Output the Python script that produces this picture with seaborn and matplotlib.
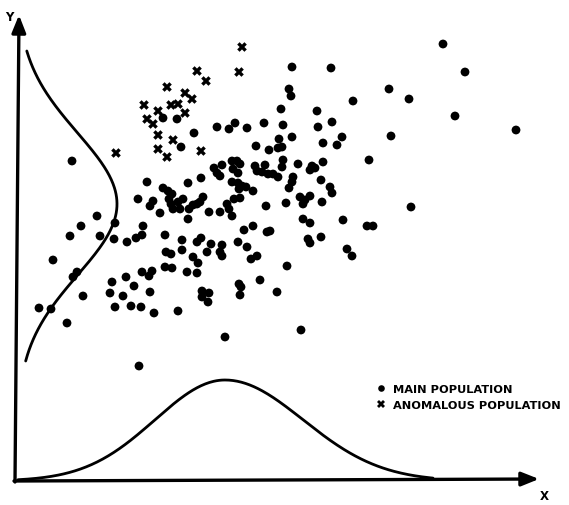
import numpy as np
import pandas as pd
import matplotlib
matplotlib.use("Agg")
import matplotlib.pyplot as plt
import seaborn as sns

# ---- data (X, Y in chart units; origin at the axes corner)
main_x = [56, 81, 65, 54, 99, 84, 98, 111, 120, 126, 127, 37, 61, 57, 67, 23, 35, 51,
          96, 110, 118, 126, 136, 133, 94, 107, 99, 115, 125, 134, 138, 123, 122, 131,
          137, 134, 144,
          150, 155, 166, 177, 182, 191, 204, 206, 149, 156, 171, 181, 186, 193, 186, 192,
          162, 223, 225, 224, 235, 241, 244, 271, 261, 209, 285,
          172, 185, 198, 201, 204, 206, 216, 221, 217, 222, 224, 239, 216, 222, 226, 223,
          230, 218, 224, 211, 213, 216, 204, 193, 187, 184, 181, 177, 173, 172, 167, 164,
          147, 152, 156, 153, 155, 157, 162, 149, 166, 185, 181, 195, 206, 222, 231, 228,
          237,
          147, 161, 178, 165, 201, 213, 219, 231,
          276, 315, 273, 275, 337, 265, 301, 248, 267, 302, 316, 276, 263, 266, 262, 326,
          321, 307, 240, 253, 267, 266, 282, 296, 299, 294, 307, 249, 241, 246, 252, 257,
          262, 353, 277, 276, 273, 305, 314, 316, 284, 289, 287, 294, 270, 306, 250, 237,
          287, 294, 251, 254, 292, 294, 305, 327, 351, 357, 331, 336,
          427, 449, 373, 393, 439, 500, 375, 395]
main_y = [320, 265, 255, 245, 258, 245, 242, 239, 243, 246, 255, 221, 209, 204, 185, 173, 172, 158,
          199, 204, 195, 209, 210, 205, 188, 185, 174, 175, 174, 189, 168, 115, 282, 299,
          280, 275, 268,
          229, 227, 231, 224, 218, 229, 229, 225, 214, 213, 209, 208, 190, 188, 184, 179,
          170, 197, 194, 186, 222, 225, 201, 215, 189, 144, 151,
          298, 303, 313, 308, 305, 316, 320, 320, 312, 308, 317, 315, 299, 298, 295, 292,
          294, 282, 283, 277, 272, 265, 269, 269, 284, 279, 277, 276, 272, 262, 282, 272,
          293, 290, 287, 282, 277, 272, 279, 246, 241, 243, 239, 237, 236, 239, 234, 251,
          255,
          363, 362, 348, 334, 354, 352, 358, 353,
          414, 413, 392, 385, 380, 372, 370, 358, 356, 354, 359, 344, 342, 334, 333, 344,
          336, 338, 335, 331, 321, 314, 317, 315, 313, 311, 319, 316, 310, 309, 307, 307,
          304, 321, 304, 299, 293, 301, 294, 288, 284, 281, 277, 285, 278, 279, 275, 290,
          262, 258, 249, 250, 242, 238, 244, 261, 255, 255, 232, 225,
          437, 409, 392, 382, 365, 351, 345, 274]

anom_x = [226, 181, 223, 190, 151, 169, 176, 128, 155, 162, 142, 169, 131, 137, 142,
          157, 142, 151, 185, 100]
anom_y = [434, 410, 409, 400, 394, 388, 382, 376, 376, 377, 370, 368, 362, 357, 346,
          341, 332, 324, 330, 328]

labels = ["MAIN POPULATION", "ANOMALOUS POPULATION"]

# marginal normal curves (parameters)
x_mean, x_sig_left, x_sig_right, x_amp = 209, 70, 78, 101
y_mean, y_sig, y_amp, y_base = 277, 71, 100, 1

df = pd.DataFrame({
    "X": main_x + anom_x,
    "Y": main_y + anom_y,
    "population": [labels[0]] * len(main_x) + [labels[1]] * len(anom_x),
})

sns.set_theme(style="white")
plt.rcParams["font.family"] = ["DejaVu Sans"]
plt.rcParams["text.color"] = "black"

fig = plt.figure(figsize=(5.69, 5.06), dpi=100)
ax = fig.add_axes([0, 0, 1, 1])

sns.scatterplot(data=df, x="X", y="Y", hue="population", style="population",
                size="population",
                palette={labels[0]: "black", labels[1]: "black"},
                markers={labels[0]: "o", labels[1]: "X"},
                sizes={labels[0]: 40, labels[1]: 48},
                edgecolor="black", linewidth=0, ax=ax, zorder=3)

# bottom marginal curve (distribution of X)
gx = np.linspace(2, 417, 300)
sig = np.where(gx < x_mean, x_sig_left, x_sig_right)
gy = x_amp * np.exp(-(gx - x_mean) ** 2 / (2 * sig ** 2))
sns.lineplot(x=gx, y=gy, color="black", lw=2.0, ax=ax, sort=False, estimator=None)

# left marginal curve (distribution of Y)
hy = np.linspace(120, 430, 300)
hx = y_base + y_amp * np.exp(-(hy - y_mean) ** 2 / (2 * y_sig ** 2))
sns.lineplot(x=hx, y=hy, color="black", lw=2.0, ax=ax, sort=False, estimator=None)

# axes with arrowheads
ax.annotate("", xy=(3, 466), xytext=(-1, -1),
            arrowprops=dict(arrowstyle="-|>,head_length=0.7,head_width=0.28", lw=2.4,
                            color="black", mutation_scale=15, shrinkA=0, shrinkB=0))
ax.annotate("", xy=(523, 2), xytext=(-2, 0),
            arrowprops=dict(arrowstyle="-|>,head_length=0.7,head_width=0.28", lw=2.4,
                            color="black", mutation_scale=15, shrinkA=0, shrinkB=0))
ax.text(-7, 465, "Y", fontsize=8.5, fontweight="bold", ha="center", va="center")
ax.text(528, -15, "X", fontsize=8.5, fontweight="bold", ha="center", va="center")

ax.set_xlim(-16, 553)
ax.set_ylim(-24, 482)
ax.set_axis_off()

leg = ax.legend(loc="center left", bbox_to_anchor=(360, 84), bbox_transform=ax.transData,
                frameon=False, handletextpad=0.7, handlelength=0.8, labelspacing=0.6,
                borderpad=0, borderaxespad=0, markerscale=0.75,
                prop={"weight": "bold", "size": 8.2})
for h in leg.legend_handles:
    h.set_color("black")
for t in leg.get_texts():
    t.set_color("black")

fig.savefig("out.png", dpi=100, facecolor="white")
